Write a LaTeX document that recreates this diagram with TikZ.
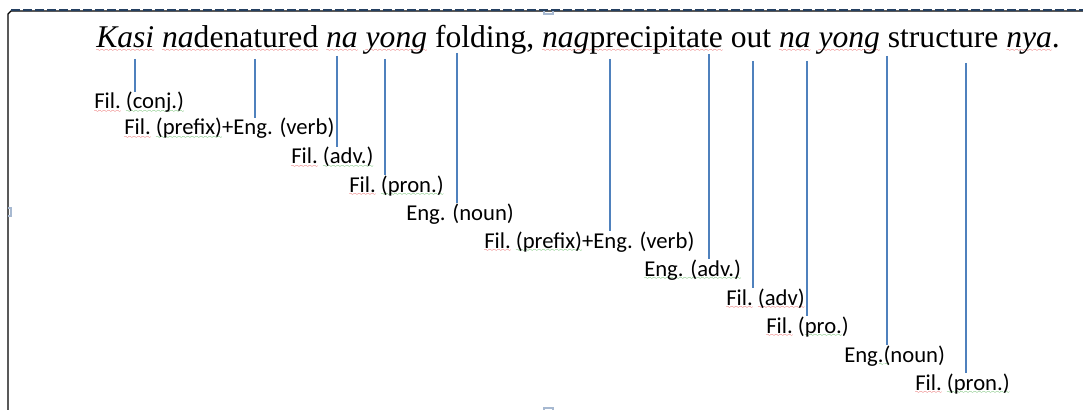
\documentclass[tikz,border=0pt]{standalone}
\usepackage{fontspec}
\setmainfont{Liberation Serif}
\newfontfamily\calibri{Carlito}
\usepackage{tikz}
\usetikzlibrary{positioning}

\definecolor{wordblue}{HTML}{4F81BD}
\definecolor{boxnavy}{HTML}{243F60}
\definecolor{handleblue}{HTML}{A7B9D1}
\font\wavefont=lasy6 scaled 650
\newcommand\squiggle[2]{\setbox0\hbox{#2}\rlap{\textcolor{#1}{\lower2.5pt\hbox to\wd0{\xleaders\hbox{\wavefont\char58}\hfil}}}\box0\relax}
\newcommand\spellred[1]{\squiggle{red!85!black}{#1}}
\newcommand\spellgreen[1]{\squiggle{green!55!black}{#1}}

\begin{document}
\begin{tikzpicture}[x=0.75pt,y=-0.75pt,
  every node/.style={inner sep=0pt,anchor=base west},
  gloss/.style={font=\calibri\fontsize{17}{20}\selectfont},
  wordline/.style={wordblue,line width=1.1pt}]
\useasboundingbox (0,0) rectangle (1083,410);
\draw[line width=0.9pt] (8,410) -- (8,14) -- (11,11) -- (1083,11);
\draw[boxnavy,line width=1.5pt,dash pattern=on 7pt off 2pt] (11,10.5) -- (1083,10.5);
\draw[handleblue,line width=0.9pt] (544,11) -- (544,14) -- (553,14) -- (553,11);
\draw[handleblue,line width=0.9pt] (8,208) -- (11,208) -- (11,216) -- (8,216);
\draw[handleblue,line width=0.9pt] (544,410) -- (544,408) -- (553,408) -- (553,410);

\node (sent) at (96,48) {\fontsize{23.7}{28}\selectfont\spellred{\textit{Kasi}}
  \spellred{\textit{na}denatured} \spellred{\textit{na}} \spellred{\textit{yong}}
  folding, \spellred{\textit{nag}precipitate} out \spellred{\textit{na}}
  \spellred{\textit{yong}} structure \spellred{\textit{nya}}.};

\coordinate (w1) at (135,59);
\coordinate (w2) at (255,59);
\coordinate (w3) at (337,56);
\coordinate (w4) at (385,59);
\coordinate (w5) at (457,53);
\coordinate (w6) at (610,59);
\coordinate (w7) at (709,54);
\coordinate (w8) at (753,61);
\coordinate (w9) at (807,61);
\coordinate (w10) at (887,56);
\coordinate (w11) at (966,63);

\node[gloss] (l1) at (94,109) {\spellred{Fil.} \spellgreen{(conj.)}};
\node[gloss] (l2) at (124,135) {\spellred{Fil.} \spellgreen{(prefix)}+Eng. (verb)};
\node[gloss] (l3) at (291,164) {\spellred{Fil.} \spellgreen{(adv.)}};
\node[gloss] (l4) at (349,192) {\spellred{Fil.} \spellgreen{(pron.)}};
\node[gloss] (l5) at (406,220) {Eng. (noun)};
\node[gloss] (l6) at (484,248) {\spellred{Fil.} \spellgreen{(prefix)}+Eng. (verb)};
\node[gloss] (l7) at (644,276) {\spellgreen{Eng. (adv.)}};
\node[gloss] (l8) at (726,305) {\spellred{Fil.} \spellred{(adv)}};
\node[gloss] (l9) at (766,333) {\spellred{Fil.} (\spellgreen{pro.})};
\node[gloss] (l10) at (844,362) {Eng\spellgreen{.(}noun)};
\node[gloss] (l11) at (915,390) {\spellred{Fil.} \spellgreen{(pron.)}};

\foreach \i in {1,...,11}
  \draw[wordline] (w\i) -- (w\i |- l\i.north);
\end{tikzpicture}
\end{document}
